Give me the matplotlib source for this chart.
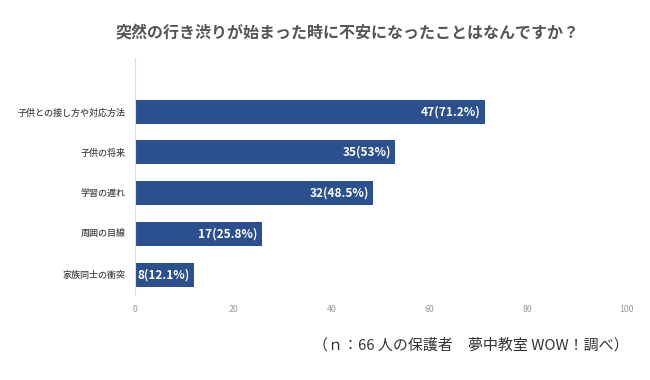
import matplotlib.pyplot as plt

plt.rcParams['font.family'] = ['Noto Sans CJK JP', 'DejaVu Sans']

# データ
categories = ['子供との接し方や対応方法', '子供の将来', '学習の遅れ', '周囲の目線', '家族同士の衝突']
counts = [47, 35, 32, 17, 8]
percents = [71.2, 53, 48.5, 25.8, 12.1]
pct_labels = ['71.2', '53', '48.5', '25.8', '12.1']
xticks = [0, 20, 40, 60, 80, 100]

bar_color = '#2c4f8d'

fig = plt.figure(figsize=(6.5, 3.8), dpi=100)
ax = fig.add_axes([135/650, 1-295/380, (626-135)/650, (295-58)/380])

n = len(categories)
ypos = list(range(n - 1, -1, -1))
ax.barh(ypos, percents, height=0.59, color=bar_color)

for y, c, p, lab in zip(ypos, counts, percents, pct_labels):
    ax.text(p - 0.9, y, f'{c}({lab}%)', ha='right', va='center',
            color='white', fontsize=8.6, fontweight='bold', fontstretch='condensed')

ax.set_yticks(ypos)
ax.set_yticklabels(categories, fontsize=6.5, color='#444444', fontweight='medium')
ax.set_xticks(xticks)
ax.set_xticklabels([str(t) for t in xticks], fontsize=6.3, color='#999999')
ax.set_xlim(0, 100)
ax.set_ylim(-0.5, n - 0.5 + 0.82)

for s in ['top', 'right', 'bottom']:
    ax.spines[s].set_visible(False)
ax.spines['left'].set_color('#dddddd')
ax.spines['left'].set_linewidth(0.8)
ax.tick_params(axis='both', length=0)
ax.tick_params(axis='y', pad=7)
ax.tick_params(axis='x', pad=7)

fig.text(347/650, 1-33/380, '突然の行き渋りが始まった時に不安になったことはなんですか？',
         ha='center', va='center', fontsize=11.5, fontweight='bold', color='#555555')
fig.text(629/650, 1-345/380, '（ｎ：66 人の保護者　夢中教室 WOW！調べ）',
         ha='right', va='center', fontsize=10.8, color='#333333')

fig.savefig('out.png', dpi=100, facecolor='white')
